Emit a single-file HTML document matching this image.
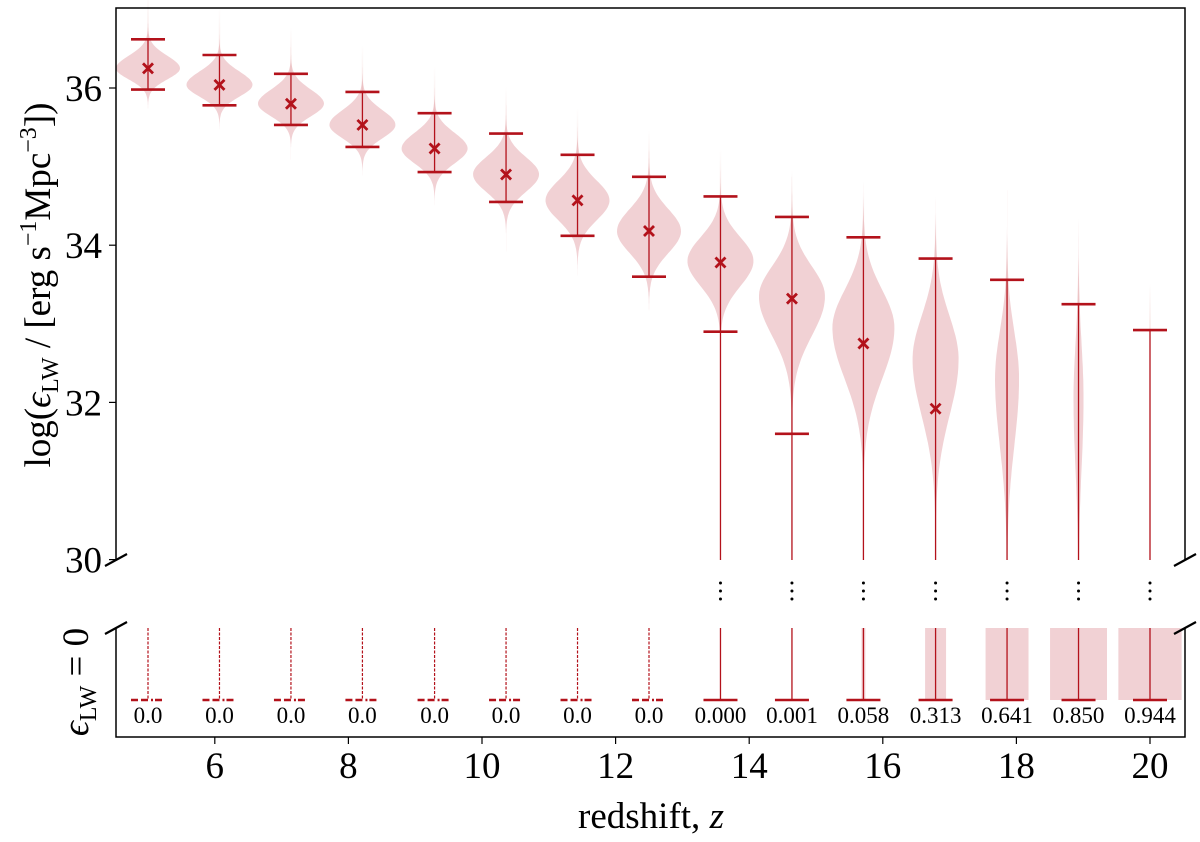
<!DOCTYPE html>
<html><head><meta charset="utf-8"><style>
html,body{margin:0;padding:0;background:#fff;}
svg{display:block;font-family:"Liberation Serif","DejaVu Serif",serif;}
</style></head><body>
<svg id="chart" width="1200" height="842" viewBox="0 0 1200 842" xmlns="http://www.w3.org/2000/svg">
<defs>
<linearGradient id="fade" x1="0" y1="0" x2="0" y2="1">
<stop offset="0" stop-color="#c0392b" stop-opacity="0"/>
<stop offset="1" stop-color="#c0392b" stop-opacity="0.12"/>
</linearGradient>
</defs>
<g id="plot"></g>
</svg>
<script>
const redshifts=[5.0,6.07,7.14,8.21,9.29,10.36,11.43,12.5,13.57,14.64,15.71,16.79,17.86,18.93,20.0];
const medians=[36.25,36.04,35.8,35.53,35.23,34.9,34.57,34.18,33.78,33.32,32.75,31.92,null,null,null];
const whiskerTop=[36.62,36.42,36.18,35.95,35.68,35.42,35.15,34.87,34.62,34.36,34.1,33.83,33.56,33.25,32.92];
const whiskerBottom=[35.98,35.78,35.53,35.25,34.93,34.55,34.12,33.6,32.9,31.6,null,null,null,null,null];
const violinPeak=[36.25,36.04,35.8,35.53,35.23,34.9,34.57,34.18,33.8,33.35,32.95,32.55,32.3,32.05,32.0];
const violinHalfWidth=[32,33,33,33,33,33,32,32,33,33,31,23,12,5,0];
const sigmaUp=[0.16,0.17,0.18,0.19,0.2,0.22,0.25,0.28,0.3,0.38,0.48,0.55,0.6,0.7,0.7];
const sigmaDown=[0.14,0.15,0.16,0.17,0.19,0.22,0.25,0.28,0.32,0.5,0.65,0.72,0.85,0.9,0.9];
const zeroFractions=[0,0,0,0,0,0,0,0,0.000,0.001,0.058,0.313,0.641,0.850,0.944];
const zeroLabels=["0.0","0.0","0.0","0.0","0.0","0.0","0.0","0.0","0.000","0.001","0.058","0.313","0.641","0.850","0.944"];
const xTicks=[6,8,10,12,14,16,18,20];
const yTicks=[30,32,34,36];

const NS="http://www.w3.org/2000/svg";
const g=document.getElementById('plot');
const RED="#b3121b", FILL="rgba(205,85,95,0.27)";
const L=116,R=1185,T=8,B=560,B2T=628,B2B=737;
const xs=z=>148+(z-5)*(1150-148)/15;
const ys=v=>88+(36-v)*78.6;
function el(tag,attrs,parent){const e=document.createElementNS(NS,tag);for(const k in attrs)e.setAttribute(k,attrs[k]);(parent||g).appendChild(e);return e;}

redshifts.forEach((z,i)=>{
  const cx=xs(z);
  const hw=violinHalfWidth[i];
  const vg=el('g',{});
  
  
  const tail=el('rect',{x:cx-0.75,y:ys(whiskerTop[i]+0.6),width:1.5,height:ys(whiskerTop[i])-ys(whiskerTop[i]+0.6),fill:'url(#fade)'},vg);
  
  
  if(hw>0){
    const lo=violinPeak[i]-4.5*sigmaDown[i], hi=violinPeak[i]+4*sigmaUp[i];
    const right=[],left=[];
    for(let k=0;k<=80;k++){
      const v=lo+(hi-lo)*k/80;
      const s=v>violinPeak[i]?sigmaUp[i]:sigmaDown[i];
      const w=hw*Math.exp(-0.5*Math.pow((v-violinPeak[i])/s,2));
      const yy=Math.min(ys(v),B);
      right.push((cx+w).toFixed(1)+','+yy.toFixed(1));
      left.unshift((cx-w).toFixed(1)+','+yy.toFixed(1));
    }
    const body=el('polygon',{points:right.concat(left).join(' '),fill:FILL},vg);
    
    
  }
  const yb=whiskerBottom[i]==null?B:ys(whiskerBottom[i]);
  const stem=el('line',{x1:cx,x2:cx,y1:ys(whiskerTop[i]),y2:(i>=8?B:yb),stroke:RED,'stroke-width':1.3},vg);
  
  
  const cap=el('line',{x1:cx-17,x2:cx+17,y1:ys(whiskerTop[i]),y2:ys(whiskerTop[i]),stroke:RED,'stroke-width':2.6},vg);
  
  
  if(whiskerBottom[i]!=null){
    const cb=el('line',{x1:cx-17,x2:cx+17,y1:yb,y2:yb,stroke:RED,'stroke-width':2.6},vg);
    
    
  }
  if(medians[i]!=null){
    const m=ys(medians[i]);
    const mk=el('path',{d:`M${cx-5},${m-5}L${cx+5},${m+5}M${cx-5},${m+5}L${cx+5},${m-5}`,stroke:RED,'stroke-width':2.8},vg);
    
    
  }
  const bw=zeroFractions[i]*67;
  if(bw>0){
    const rc=el('rect',{x:cx-bw/2,y:B2T,width:bw,height:700-B2T,fill:FILL},vg);
    
    
  }
  const dashed=i<8;
  const s2=el('line',{x1:cx,x2:cx,y1:B2T,y2:700,stroke:RED,'stroke-width':dashed?1.2:1.3,'stroke-dasharray':dashed?'3,1.5':'none'},vg);
  
  
  const b2=el('line',{x1:cx-17,x2:cx+17,y1:700,y2:700,stroke:RED,'stroke-width':2.6,'stroke-dasharray':dashed?'7,3,7,3,2,2':'none'},vg);
  
  
  const tl=el('text',{x:cx,y:723,'text-anchor':'middle','font-size':23,fill:'#000'},vg);
  tl.textContent=zeroLabels[i];
  
  
  if(i>=8){
    [583,591,599].forEach(dy=>{
      const d=el('circle',{cx:cx,cy:dy,r:1.5,fill:'#000'},vg);
      
      
    });
  }
});

const ax=el('path',{d:`M${L},${B}L${L},${T}L${R},${T}L${R},${B}M${L},${B2T}L${L},${B2B}L${R},${B2B}L${R},${B2T}`,stroke:'#000','stroke-width':1.5,fill:'none'});


[[L,B],[R,B],[L,B2T],[R,B2T]].forEach(p=>{
  const bk=el('line',{x1:p[0]-11,y1:p[1]+6,x2:p[0]+11,y2:p[1]-6,stroke:'#000','stroke-width':2.2});
  
  
});
yTicks.forEach(v=>{
  const t=el('line',{x1:L-7,x2:L,y1:ys(v),y2:ys(v),stroke:'#000','stroke-width':1.2});
  
  
  const lb=el('text',{x:L-14,y:ys(v)+13,'text-anchor':'end','font-size':37});
  lb.textContent=v;
  
  
});
xTicks.forEach(z=>{
  const t=el('line',{x1:xs(z),x2:xs(z),y1:B2B,y2:B2B+7,stroke:'#000','stroke-width':1.2});
  
  
  const lb=el('text',{x:xs(z),y:778,'text-anchor':'middle','font-size':37});
  lb.textContent=z;
  
  
});
const xt=el('text',{x:651,y:828,'text-anchor':'middle','font-size':37});
xt.innerHTML='redshift, <tspan font-style="italic">z</tspan>';


const yt=el('text',{transform:'translate(50,285) rotate(-90)','text-anchor':'middle','font-size':37});
yt.innerHTML='log(<tspan font-style="italic">ϵ</tspan><tspan font-size="24" dy="8">LW</tspan><tspan dy="-8"> / [erg s</tspan><tspan font-size="24" dy="-14">−1</tspan><tspan dy="14">Mpc</tspan><tspan font-size="24" dy="-14">−3</tspan><tspan dy="14">])</tspan>';


const yt2=el('text',{transform:'translate(88,682) rotate(-90)','text-anchor':'middle','font-size':37});
yt2.innerHTML='<tspan font-style="italic">ϵ</tspan><tspan font-size="24" dy="8">LW</tspan><tspan dy="-8"> = 0</tspan>';


</script>
</body></html>
